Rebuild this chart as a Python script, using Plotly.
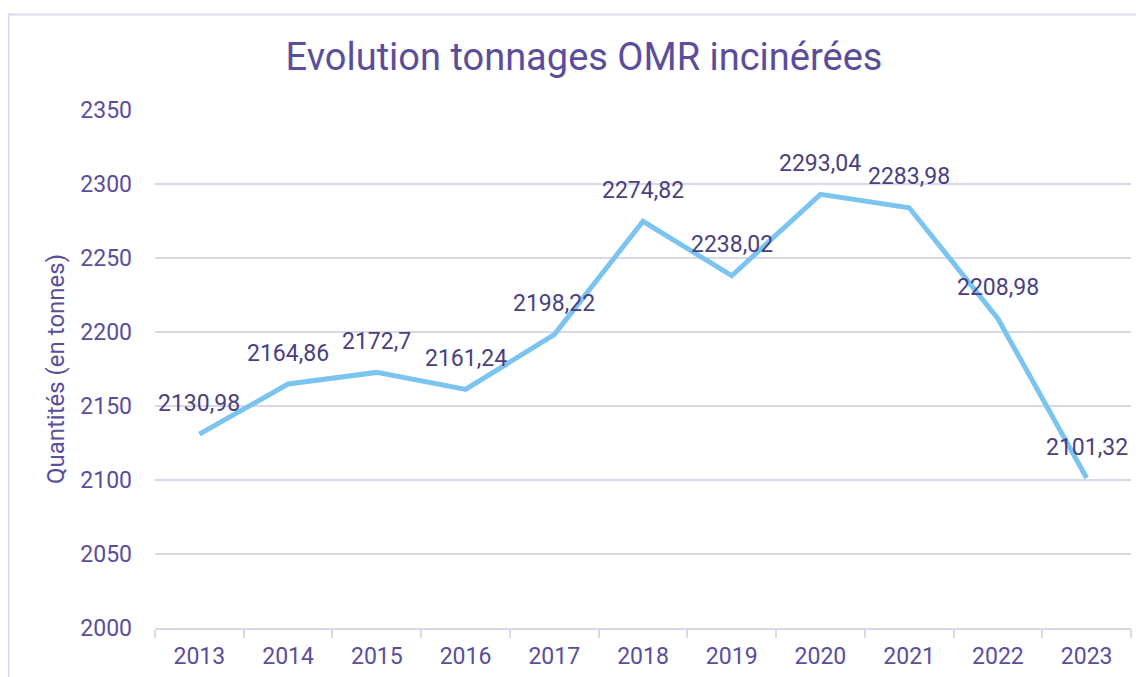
import plotly.graph_objects as go

years = ["2013", "2014", "2015", "2016", "2017", "2018", "2019", "2020", "2021", "2022", "2023"]
values = [2130.98, 2164.86, 2172.7, 2161.24, 2198.22, 2274.82, 2238.02, 2293.04, 2283.98, 2208.98, 2101.32]
labels = ["2130,98", "2164,86", "2172,7", "2161,24", "2198,22", "2274,82", "2238,02", "2293,04", "2283,98", "2208,98", "2101,32"]

W, H = 1144, 677
L, R, T, B = 147, 21, 102, 57
pw, ph = W - L - R, H - T - B

text_col = "#5a4e9c"
label_col = "#4a3f80"
grid_col = "#d9d7ea"

fig = go.Figure()
fig.add_trace(go.Scatter(x=years, y=values, mode="lines",
                         line=dict(color="#7cc4f0", width=5), hoverinfo="skip"))

for i, (y, t) in enumerate(zip(values, labels)):
    fig.add_annotation(x=i, y=y, text=t, showarrow=False, yshift=31,
                       font=dict(family="Roboto", size=23, color=label_col))

def px2x(p):
    return (p - L) / pw

def py2y(p):
    return (H - B - p) / ph

fig.add_shape(type="rect", xref="paper", yref="paper",
              x0=px2x(0.5), x1=px2x(1160), y0=py2y(700), y1=py2y(6.5),
              line=dict(color="#dcdaec", width=2), layer="below")

fig.update_layout(
    width=W, height=H,
    margin=dict(l=L, r=R, t=T, b=B, autoexpand=False),
    paper_bgcolor="white", plot_bgcolor="white",
    showlegend=False,
    title=dict(text="Evolution tonnages OMR incinérées", x=576 / W, xanchor="center",
               y=1 - 49 / H, yanchor="middle", xref="container",
               font=dict(family="Roboto", size=38, color=text_col)),
    font=dict(family="Roboto", color=text_col),
)
fig.update_xaxes(type="category", range=[-0.5, len(years) - 0.5], tickson="boundaries",
                 ticks="outside", ticklen=8, tickangle=0, ticklabelstandoff=6,
                 tickcolor=grid_col, tickwidth=2, showline=True, linecolor=grid_col, linewidth=2,
                 showgrid=False, tickfont=dict(size=23, color=text_col))
fig.update_yaxes(range=[2000, 2350], dtick=50, showgrid=True, gridcolor=grid_col, gridwidth=2,
                 zeroline=False, showline=False, ticks="", ticklabelstandoff=22,
                 tickfont=dict(size=23, color=text_col),
                 title=dict(text="Quantités (en tonnes)", standoff=8,
                            font=dict(size=24, color=text_col)))

fig.write_html("out.html")
